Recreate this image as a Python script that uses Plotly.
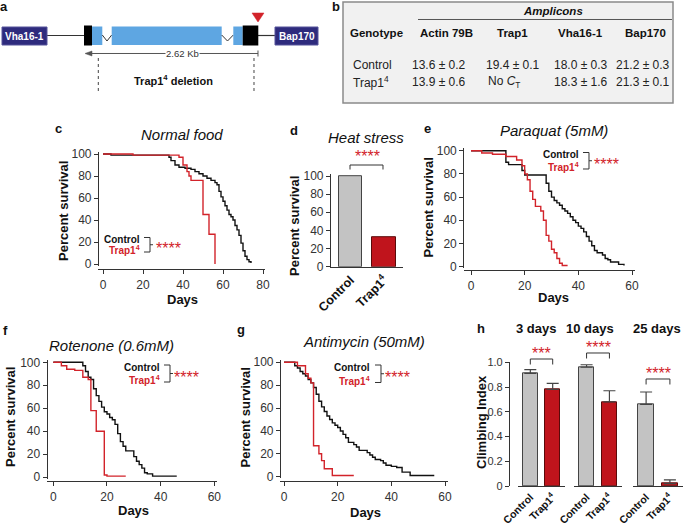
import plotly.graph_objects as go

W, H = 685, 525
FONT = "Arial, Liberation Sans, Helvetica, sans-serif"
INK = "#111111"
TICK = "#333333"
RED = "#d2232a"
BAR_RED = "#c0141c"
BAR_GREY = "#c3c3c3"
NAVY = "#2e2b7d"
BLUE = "#5ea6e2"

# ---------------- data ----------------
# c  normal food
food_ctrl_days = [0, 4, 33, 34, 36, 38, 41, 44, 46, 48, 50, 52, 54, 56, 57, 58, 59, 60, 61, 62, 63, 64, 65, 66, 67, 68, 69, 70, 71, 72, 73, 74]
food_ctrl_pct = [100, 99, 97, 94, 90, 88, 87, 86, 84, 82, 80, 78, 76, 74, 72, 66, 61, 57, 53, 49, 45, 43, 40, 35, 31, 26, 19, 12, 7, 4, 2, 1]
food_trap_days = [0, 15, 38, 40, 42, 43, 44, 50, 53, 56]
food_trap_pct = [100, 99, 97, 90, 84, 80, 76, 45, 27, 0]

# d  heat stress
heat_groups = ["Control", "Trap1<sup>4</sup>"]
heat_survival = [100, 32]

# e  paraquat
paraquat_ctrl_days = [0, 13, 14, 19, 20, 28, 29, 30, 31, 32, 33, 34, 35, 36, 37, 38, 39, 40, 41, 42, 43, 44, 45, 46, 47, 49, 50, 51, 52, 55, 57]
paraquat_ctrl_pct = [100, 90, 88, 83, 79, 72, 65, 60, 57, 55, 53, 50, 48, 46, 43, 40, 38, 35, 33, 30, 26, 22, 18, 14, 12, 10, 7, 6, 4, 2, 1]
paraquat_trap_days = [0, 4, 8, 13, 17, 19, 20, 21, 22, 23, 24, 26, 27, 28, 29, 30, 31, 32, 33, 34, 36]
paraquat_trap_pct = [100, 98, 97, 95, 92, 87, 80, 75, 65, 58, 52, 48, 40, 27, 22, 15, 12, 7, 3, 1, 1]

# f  rotenone
rotenone_ctrl_days = [0, 11, 12, 13, 14, 15, 16, 17, 18, 19, 20, 21, 22, 23, 24, 25, 26, 27, 30, 31, 32, 33, 34, 35, 37, 46]
rotenone_ctrl_pct = [100, 97, 92, 87, 85, 77, 71, 66, 61, 57, 55, 52, 50, 46, 38, 31, 27, 23, 18, 14, 11, 8, 4, 3, 1, 1]
rotenone_trap_days = [0, 3, 5, 8, 11, 13, 14, 16, 19, 20, 27]
rotenone_trap_pct = [100, 97, 94, 93, 87, 85, 58, 40, 2, 1, 1]

# g  antimycin
antimycin_ctrl_days = [0, 4, 5, 6, 7, 8, 9, 10, 11, 12, 13, 14, 15, 16, 17, 18, 19, 20, 21, 22, 23, 24, 26, 27, 28, 31, 32, 33, 34, 36, 37, 38, 40, 42, 44, 47, 56]
antimycin_ctrl_pct = [100, 97, 95, 92, 90, 88, 85, 82, 78, 72, 66, 61, 57, 53, 50, 47, 45, 43, 40, 37, 34, 30, 28, 26, 23, 21, 19, 17, 15, 14, 12, 10, 9, 8, 4, 1, 1]
antimycin_trap_days = [0, 5, 8, 9, 10, 11, 13, 14, 15, 18, 26]
antimycin_trap_pct = [100, 97, 90, 86, 82, 27, 20, 14, 7, 1, 1]

# h  climbing
climb_ages = ["3 days", "10 days", "25 days"]
climb_ctrl = [0.91, 0.96, 0.66]
climb_ctrl_err = [0.03, 0.02, 0.10]
climb_trap = [0.78, 0.68, 0.02]
climb_trap_err = [0.05, 0.09, 0.03]
climb_stars = ["***", "****", "****"]

# b  qPCR table
amplicons = ["Actin 79B", "Trap1", "Vha16-1", "Bap170"]
genotypes = ["Control", "Trap1<sup>4</sup>"]
ct_values = [
    ["13.6 ± 0.2", "19.4 ± 0.1", "18.0 ± 0.3", "21.2 ± 0.3"],
    ["13.9 ± 0.6", "No <i>C</i><sub>T</sub>", "18.3 ± 1.6", "21.3 ± 0.1"],
]

# ---------------- helpers ----------------
fig = go.Figure()
layout = {}
ann = []
shp = []

STAR_SIZE = 16
STAR_LIFT = 1.5  # asterisks sit a little high in the line box


def X(x):
    return x / W


def Y(y):
    return 1 - y / H


def text(x, y, s, size=12, color=INK, anchor="center", angle=0, bg=None):
    a = dict(x=X(x), y=Y(y), xref="paper", yref="paper", text=s, showarrow=False,
             font=dict(family=FONT, size=size, color=color),
             xanchor=anchor, yanchor="middle", textangle=angle, borderpad=0)
    if bg:
        a["bgcolor"] = bg
    ann.append(a)


def stars(x, y, s="****"):
    text(x, y + STAR_LIFT, s, size=STAR_SIZE, color=RED)


def path(points, color=INK, width=1.0, fill=None, dash=None, closed=False):
    d = "M" + " L".join(f"{X(a):.5f},{Y(b):.5f}" for a, b in points)
    if closed:
        d += " Z"
    shp.append(dict(type="path", path=d, xref="paper", yref="paper",
                    line=dict(color=color, width=width, dash=dash),
                    fillcolor=fill))


def rect(x0, y0, x1, y1, fill, line=None, width=0):
    shp.append(dict(type="rect", xref="paper", yref="paper",
                    x0=X(x0), x1=X(x1), y0=Y(y1), y1=Y(y0),
                    fillcolor=fill, line=dict(color=line or fill, width=width)))


def axis(**kw):
    base = dict(showline=True, linecolor=TICK, linewidth=1.2, ticks="outside",
                ticklen=4, tickwidth=1.2, tickcolor=TICK, showgrid=False,
                zeroline=False, automargin=False, fixedrange=True,
                tickfont=dict(family=FONT, size=12, color=TICK))
    base.update(kw)
    return base


def km_panel(n, ctrl, trap, xr, xdom, xline, xticks, yr, ydom, yline):
    xs = "" if n == 1 else str(n)
    layout["xaxis" + xs] = axis(range=xr, domain=[X(xdom[0]), X(xdom[1])],
                                anchor="free", position=Y(xline), tickvals=xticks)
    layout["yaxis" + xs] = axis(range=yr, domain=[Y(ydom[1]), Y(ydom[0])],
                                anchor="free", position=X(yline),
                                tickvals=[0, 20, 40, 60, 80, 100])
    for (days, pct), col in ((ctrl, INK), (trap, RED)):
        fig.add_trace(go.Scatter(x=days, y=pct, mode="lines",
                                 line=dict(color=col, width=1.4, shape="hv"),
                                 xaxis="x" + xs, yaxis="y" + xs,
                                 showlegend=False, hoverinfo="skip"))


def km_key(right, y_ctrl, y_trap, brx, stars_x):
    text(right, y_ctrl, "<b>Control</b>", size=10, anchor="right")
    text(right, y_trap, "<b>Trap1<sup>4</sup></b>", size=10, color=RED, anchor="right")
    top, bot = y_ctrl - 2, y_trap + 2
    path([(brx, top), (brx + 6, top), (brx + 6, bot), (brx, bot)], color=TICK, width=1)
    path([(brx + 6, (top + bot) / 2), (brx + 9, (top + bot) / 2)], color=TICK, width=1)
    stars(stars_x, (top + bot) / 2 + 2)


# ---------------- a: gene map ----------------
text(4, 7, "<b>a</b>", size=13)
path([(47, 35.5), (84, 35.5)], color="#333", width=1.2)
path([(258, 35.5), (275, 35.5)], color="#333", width=1.2)
rect(2, 27, 47, 45, NAVY, "#55529a", 1)
text(24.5, 36, "<b>Vha16-1</b>", size=10, color="white")
rect(275, 27, 318, 45, NAVY, "#55529a", 1)
text(296.5, 36, "<b>Bap170</b>", size=10, color="white")
rect(84, 25.5, 92, 45.5, "black")
rect(92, 26.5, 102.3, 45, BLUE)
path([(102.3, 35), (107, 41), (111.7, 35)], color="#333", width=1)
rect(111.7, 26.5, 221.7, 45, BLUE)
path([(221.7, 35), (227.5, 41), (233.3, 35)], color="#333", width=1)
rect(233.3, 26.5, 242.7, 45, BLUE)
rect(242.7, 25.5, 258.3, 45.5, "black")
path([(252, 13), (264, 13), (258, 22)], color=RED, width=0.5, fill=RED, closed=True)
path([(91, 53.5), (258, 53.5)], color="#555", width=1)
path([(258, 50.5), (258, 56.5)], color="#555", width=1)
path([(85, 53.5), (92, 51), (92, 56)], color="#555", width=0.5, fill="#555", closed=True)
text(183, 53.5, "2.62 Kb", size=9.5, color="#333", bg="white")
path([(98.3, 58), (98.3, 93)], color="#444", width=1, dash="dot")
path([(254, 58), (254, 93)], color="#444", width=1, dash="dot")
text(173, 80, "<b>Trap1<sup>4</sup> deletion</b>", size=11)

# ---------------- b: table ----------------
text(336, 7, "<b>b</b>", size=13)
rect(343, 2, 673, 103, "#f1f1f1", "#8a8a8a", 1.5)
text(553, 11.5, "<b><i>Amplicons</i></b>", size=11.5)
path([(418, 19.5), (672, 19.5)], color="#555", width=1)
text(376, 33.5, "<b>Genotype</b>", size=11.5)
for name, cx in zip(amplicons, [447, 512.5, 580, 645]):
    text(cx, 33.5, f"<b>{name}</b>", size=11.5)
for g, vals, ry in zip(genotypes, ct_values, [65, 82]):
    text(351.5, ry, g, size=12, color="#222", anchor="left")
    for v, cx in zip(vals, [438.5, 512.5, 580.5, 642.5]):
        if v.startswith("No"):
            text(487, ry, v, size=12, color="#222", anchor="left")
        else:
            text(cx, ry, v, size=12, color="#222")

# ---------------- c ----------------
km_panel(1, (food_ctrl_days, food_ctrl_pct), (food_trap_days, food_trap_pct),
         [-2.5, 81], (98, 265), 269, [0, 20, 40, 60, 80], [-2, 102], (151.8, 266.2), 98)
text(58, 128, "<b>c</b>", size=13)
text(182, 134, "<i>Normal food</i>", size=15)
text(63, 211, "<b>Percent survival</b>", size=13, angle=-90)
text(182.5, 299, "<b>Days</b>", size=13)
km_key(141, 239.5, 250, 144, 168)

# ---------------- d ----------------
layout["xaxis2"] = axis(range=[-0.58, 1.567], domain=[X(331), X(403)], anchor="y2",
                        tickvals=[0, 1], ticktext=heat_groups, ticks="", tickangle=-45,
                        tickfont=dict(family=FONT, size=12.5, color=INK, weight="bold"))
layout["yaxis2"] = axis(range=[0, 102], domain=[Y(266.7), Y(174.2)], anchor="x2",
                        tickvals=[0, 20, 40, 60, 80, 100])
fig.add_trace(go.Bar(x=[0, 1], y=heat_survival, width=0.69,
                     marker=dict(color=[BAR_GREY, BAR_RED],
                                 line=dict(color=["#444", "#5a0a0a"], width=1)),
                     xaxis="x2", yaxis="y2", showlegend=False, hoverinfo="skip"))
text(294, 131, "<b>d</b>", size=13)
text(366, 137.5, "<i>Heat stress</i>", size=15)
text(294, 226, "<b>Percent survival</b>", size=13, angle=-90)
path([(350, 169.5), (350, 165), (383, 165), (383, 169.5)], color=TICK, width=1)
stars(367, 155.5)

# ---------------- e ----------------
km_panel(3, (paraquat_ctrl_days, paraquat_ctrl_pct), (paraquat_trap_days, paraquat_trap_pct),
         [-2.5, 61], (464.3, 634.7), 270, [0, 20, 40, 60], [-1.5, 102], (148.4, 268.4), 463.3)
text(427, 128, "<b>e</b>", size=13)
text(553.5, 131, "<i>Paraquat (5mM)</i>", size=15)
text(428, 207.5, "<b>Percent survival</b>", size=13, angle=-90)
text(553, 297, "<b>Days</b>", size=13)
km_key(580, 154.5, 167, 583, 606)

# ---------------- f ----------------
km_panel(4, (rotenone_ctrl_days, rotenone_ctrl_pct), (rotenone_trap_days, rotenone_trap_pct),
         [-2.5, 61], (46.6, 217), 481, [0, 20, 40, 60], [-1.5, 102], (360, 479), 46.7)
text(5, 330, "<b>f</b>", size=13)
text(111.5, 346, "<i>Rotenone (0.6mM)</i>", size=15)
text(10, 417, "<b>Percent survival</b>", size=13, angle=-90)
text(133, 510, "<b>Days</b>", size=13)
km_key(160.5, 367, 380, 164, 186)

# ---------------- g ----------------
km_panel(5, (antimycin_ctrl_days, antimycin_ctrl_pct), (antimycin_trap_days, antimycin_trap_pct),
         [-1.5, 61], (280, 447.7), 481, [0, 20, 40, 60], [-1.5, 102], (360, 478.4), 280)
text(241, 329, "<b>g</b>", size=13)
text(364, 341, "<i>Antimycin (50mM)</i>", size=15)
text(245, 417.5, "<b>Percent survival</b>", size=13, angle=-90)
text(365, 512, "<b>Days</b>", size=13)
km_key(371, 367, 380.5, 375, 397)

# ---------------- h ----------------
layout["yaxis6"] = axis(range=[0, 1], domain=[Y(486), Y(362.3)], anchor="free",
                        position=X(509), tickvals=[0, 0.2, 0.4, 0.6, 0.8, 1.0],
                        ticktext=["0", "0.2", "0.4", "0.6", "0.8", "1.0"],
                        tickfont=dict(family=FONT, size=11, color=TICK))
h_doms = [(518, 565), (574, 622), (633, 683)]
bracket_y = [359, 353, 379]
for i, (x0, x1) in enumerate(h_doms):
    n = 6 + i
    layout[f"xaxis{n}"] = axis(range=[-0.55, 1.55], domain=[X(x0), X(x1)], anchor="y6",
                               tickvals=[0, 1], ticktext=heat_groups, ticks="", tickangle=-45,
                               tickfont=dict(family=FONT, size=10.5, color=INK, weight="bold"))
    fig.add_trace(go.Bar(x=[0, 1], y=[climb_ctrl[i], climb_trap[i]], width=0.65,
                         marker=dict(color=[BAR_GREY, BAR_RED],
                                     line=dict(color=["#444", "#5a0a0a"], width=1)),
                         error_y=dict(type="data", symmetric=False,
                                      array=[climb_ctrl_err[i], climb_trap_err[i]],
                                      arrayminus=[0, 0], color="#444", thickness=1.2, width=6),
                         xaxis=f"x{n}", yaxis="y6", showlegend=False, hoverinfo="skip"))
    span = (x1 - x0) / 2.1
    bx0 = x0 + 0.55 * span
    bx1 = x0 + 1.55 * span
    by = bracket_y[i]
    path([(bx0, by + 5.5), (bx0, by), (bx1, by), (bx1, by + 5.5)], color=TICK, width=1)
    stars((bx0 + bx1) / 2, by - 7, climb_stars[i])
    text([536, 590, 657][i], 328, f"<b>{climb_ages[i]}</b>", size=13)
text(481, 328, "<b>h</b>", size=13)
text(481, 422, "<b>Climbing Index</b>", size=13, angle=-90)

fig.update_layout(
    width=W, height=H, template="none",
    margin=dict(l=0, r=0, t=0, b=0),
    paper_bgcolor="white", plot_bgcolor="rgba(0,0,0,0)",
    showlegend=False, font=dict(family=FONT),
    annotations=ann, shapes=shp, bargap=0,
    **layout,
)

# page margin off so the 685x525 figure fills the window exactly
fig.write_html("out.html", config={"displayModeBar": False},
               post_script="document.body.style.margin='0px';")
